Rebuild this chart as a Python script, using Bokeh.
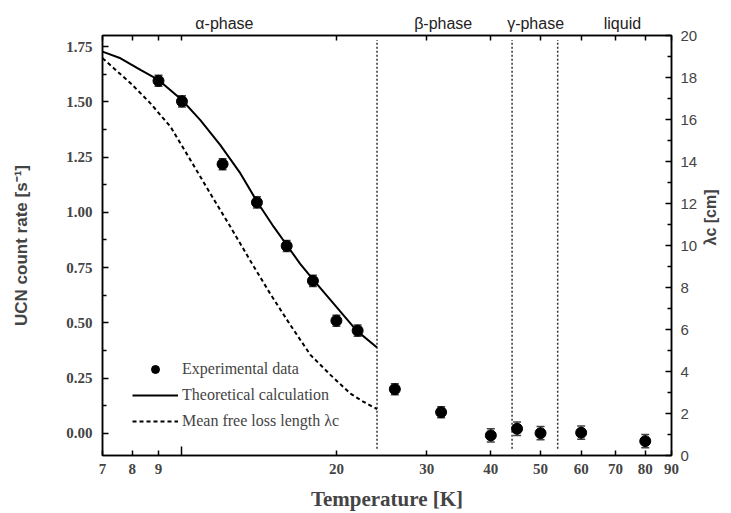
import math
from bokeh.plotting import figure
from bokeh.models import (Range1d, LinearAxis, LogAxis, FixedTicker, ColumnDataSource,
                          Whisker, TeeHead, Legend, LegendItem,
                          NumeralTickFormatter, CustomJSTickFormatter)
from bokeh.embed import file_html
from bokeh.resources import INLINE

# ---- data ----
temperature = [9, 10, 12, 14, 16, 18, 20, 22, 26, 32, 40, 45, 50, 60, 80]
count_rate = [1.595, 1.502, 1.218, 1.045, 0.848, 0.690, 0.510, 0.465, 0.200, 0.096,
              -0.009, 0.021, 0.001, 0.003, -0.035]
count_err = [0.025, 0.025, 0.025, 0.025, 0.025, 0.025, 0.025, 0.025, 0.025, 0.025,
             0.03, 0.03, 0.03, 0.03, 0.03]

theory_T = [7.0, 7.59, 8.3, 9.0, 10.0, 10.86, 11.88, 13.0, 14.02, 15.1, 16.03, 17.0,
            18.07, 19.77, 21.9, 24.0]
theory_rate = [1.727, 1.697, 1.644, 1.599, 1.508, 1.417, 1.304, 1.176, 1.047, 0.934,
               0.850, 0.767, 0.692, 0.586, 0.465, 0.389]

lambda_T = [7.0, 7.94, 8.68, 9.5, 10.4, 11.36, 12.43, 13.6, 14.88, 16.27, 17.8, 19.47,
            21.3, 22.5, 24.0]
lambda_cm = [18.92, 17.73, 16.77, 15.65, 14.05, 12.47, 10.89, 9.26, 7.68, 6.21, 4.79,
             3.84, 2.95, 2.58, 2.21]

phase_bounds = [24, 44, 54]
phase_names = ["α-phase", "β-phase", "γ-phase", "liquid"]
phase_label_x = [12.1, 32.3, 48.9, 72.2]

x_labeled_ticks = [7, 8, 9, 20, 30, 40, 50, 60, 70, 80, 90]
x_unlabeled_ticks = [10]
x_all_ticks = [7, 8, 9, 10, 20, 30, 40, 50, 60, 70, 80, 90]
y_ticks = [0.0, 0.25, 0.5, 0.75, 1.0, 1.25, 1.5, 1.75]
y_minor = [0.125, 0.375, 0.625, 0.875, 1.125, 1.375, 1.625]
lam_ticks = [0, 2, 4, 6, 8, 10, 12, 14, 16, 18, 20]
lam_minor = [1, 3, 5, 7, 9, 11, 13, 15, 17, 19]

SERIF = "Liberation Serif"
SANS = "Liberation Sans"

p = figure(width=731, height=513, x_axis_type="log",
           x_range=Range1d(7, 90), y_range=Range1d(-0.1, 1.8),
           output_backend="svg", toolbar_location=None,
           min_border_left=102, min_border_right=60, min_border_top=35, min_border_bottom=58)
p.grid.visible = False
p.outline_line_color = "black"
p.outline_line_width = 1.5
p.extra_y_ranges = {"lam": Range1d(0, 20)}

def style_axis(ax):
    ax.axis_line_width = 1.5
    ax.axis_line_color = "black"
    ax.major_tick_in = 6
    ax.major_tick_out = 0
    ax.minor_tick_in = 4
    ax.minor_tick_out = 0
    ax.major_tick_line_width = 1.5
    ax.minor_tick_line_width = 1.5

# bottom axis
xa = p.xaxis[0]
xa.ticker = FixedTicker(ticks=x_labeled_ticks, minor_ticks=x_unlabeled_ticks)
xa.formatter = CustomJSTickFormatter(code="return String(tick);")
style_axis(xa)
xa.major_tick_in = 5
xa.minor_tick_in = 9
xa.major_label_text_font = SERIF
xa.major_label_text_font_style = "bold"
xa.major_label_text_font_size = "15px"
xa.major_label_standoff = 8
xa.axis_label = "Temperature [K]"
xa.axis_label_text_font = SERIF
xa.axis_label_text_font_style = "bold"
xa.axis_label_text_font_size = "21px"
xa.axis_label_standoff = 10

# left axis
ya = p.yaxis[0]
ya.ticker = FixedTicker(ticks=y_ticks, minor_ticks=y_minor)
ya.formatter = NumeralTickFormatter(format="0.00")
style_axis(ya)
ya.major_label_text_font = SERIF
ya.major_label_text_font_style = "bold"
ya.major_label_text_font_size = "15px"
ya.major_label_standoff = 10
ya.axis_label = "UCN count rate [s⁻¹]"
ya.axis_label_text_font = SANS
ya.axis_label_text_font_style = "bold"
ya.axis_label_text_font_size = "17px"
ya.axis_label_standoff = 32

# top axis: tick marks mirror the bottom, phase names as labels
ta = LogAxis(ticker=FixedTicker(ticks=phase_label_x, minor_ticks=x_all_ticks),
             formatter=CustomJSTickFormatter(
                 args=dict(names=phase_names, pos=phase_label_x),
                 code="const i = pos.indexOf(tick); return i >= 0 ? names[i] : '';"))
style_axis(ta)
ta.major_tick_in = 0
ta.major_tick_out = 0
ta.minor_tick_in = 5
ta.major_label_text_font = SANS
ta.major_label_text_font_size = "16px"
ta.major_label_text_color = "#222222"
ta.major_label_standoff = 4
p.add_layout(ta, "above")

# right axis
ra = LinearAxis(y_range_name="lam", ticker=FixedTicker(ticks=lam_ticks, minor_ticks=lam_minor))
style_axis(ra)
ra.major_label_text_font = SANS
ra.major_label_text_font_size = "15px"
ra.major_label_standoff = 9
ra.axis_label = "λc [cm]"
ra.axis_label_text_font = SANS
ra.axis_label_text_font_style = "bold"
ra.axis_label_text_font_size = "16px"
ra.axis_label_standoff = 10
try:
    ra.axis_label_orientation = math.pi / 2
except Exception:
    pass
p.add_layout(ra, "right")

# phase boundaries
p.segment(x0=phase_bounds, y0=[-0.07] * 3, x1=phase_bounds, y1=[1.78] * 3,
          line_color="#333333", line_width=1.5, line_dash="2 2")

# curves
theory = p.line(theory_T, theory_rate, line_color="black", line_width=2)
lam = p.line(lambda_T, lambda_cm, y_range_name="lam", line_color="black",
             line_width=2, line_dash="4 3")

# data with error bars
src = ColumnDataSource(dict(
    x=temperature, y=count_rate,
    upper=[v + e for v, e in zip(count_rate, count_err)],
    lower=[v - e for v, e in zip(count_rate, count_err)]))
p.add_layout(Whisker(base="x", upper="upper", lower="lower", source=src,
                     line_color="#444444", line_width=1.5,
                     upper_head=TeeHead(size=8, line_color="#444444", line_width=1.5),
                     lower_head=TeeHead(size=8, line_color="#444444", line_width=1.5)))
pts = p.scatter("x", "y", source=src, size=11, color="black")

legend = Legend(items=[LegendItem(label="Experimental data", renderers=[pts]),
                       LegendItem(label="Theoretical calculation", renderers=[theory]),
                       LegendItem(label="Mean free loss length λc", renderers=[lam])],
                location=(30, 24), border_line_alpha=0, background_fill_alpha=0,
                label_text_font=SERIF, label_text_font_size="16px",
                glyph_width=46, glyph_height=20, label_height=20, spacing=6,
                padding=0, margin=0, label_standoff=4)
p.add_layout(legend)

open("out.html", "w").write(file_html(p, INLINE))
